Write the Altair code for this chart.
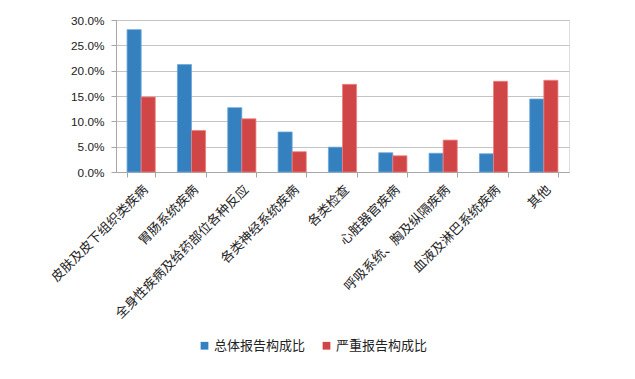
import altair as alt
import pandas as pd

categories = ["皮肤及皮下组织类疾病", "胃肠系统疾病", "全身性疾病及给药部位各种反应",
              "各类神经系统疾病", "各类检查", "心脏器官疾病", "呼吸系统、胸及纵隔疾病",
              "血液及淋巴系统疾病", "其他"]
series = ["总体报告构成比", "严重报告构成比"]
total = [28.1, 21.2, 12.7, 7.9, 4.9, 3.8, 3.7, 3.6, 14.4]
severe = [14.8, 8.2, 10.5, 4.0, 17.3, 3.2, 6.3, 17.9, 18.1]

rows = []
for c, a, b in zip(categories, total, severe):
    rows.append({"cat": c, "series": series[0], "v": a / 100})
    rows.append({"cat": c, "series": series[1], "v": b / 100})
df = pd.DataFrame(rows)

chart = alt.Chart(df).mark_bar(strokeWidth=0.8).encode(
    x=alt.X("cat:N", sort=categories, title=None,
            scale=alt.Scale(paddingInner=0.44, paddingOuter=0.22),
            axis=alt.Axis(labelAngle=-45, labelFont="Noto Sans CJK SC", labelFontSize=13,
                          labelColor="#222222", labelPadding=6, labelLimit=300,
                          domainColor="#a6a6a6", tickColor="#a6a6a6", tickSize=5,
                          tickBand="extent", grid=False)),
    xOffset=alt.XOffset("series:N", sort=series),
    y=alt.Y("v:Q", title=None,
            scale=alt.Scale(domain=[0, 0.3]),
            axis=alt.Axis(format=".1%", values=[0, 0.05, 0.1, 0.15, 0.2, 0.25, 0.3],
                          labelFont="Liberation Sans", labelFontSize=11.8, labelColor="#222222",
                          labelPadding=7, domainColor="#a6a6a6", tickColor="#a6a6a6",
                          tickSize=5, gridColor="#c4c4c4", gridWidth=1.2)),
    color=alt.Color("series:N", sort=series,
                    scale=alt.Scale(domain=series, range=["#3580be", "#d04545"]),
                    legend=alt.Legend(title=None, orient="none", direction="horizontal",
                                      legendX=82, legendY=319, symbolType="square",
                                      symbolSize=60, symbolStrokeWidth=0,
                                      labelFont="Noto Sans CJK SC", labelFontSize=13,
                                      labelColor="#222222", columnPadding=14, labelOffset=3)),
    stroke=alt.Stroke("series:N", sort=series,
                      scale=alt.Scale(domain=series, range=["#6aa8dc", "#f08080"]),
                      legend=None),
).properties(
    width=453, height=152,
    autosize=alt.AutoSizeParams(type="none"),
    padding={"left": 108, "top": 12, "right": 58, "bottom": 199},
).configure_view(stroke=None).configure(background="white")

chart.save("out.html", embed_options={"renderer": "svg", "actions": False})
